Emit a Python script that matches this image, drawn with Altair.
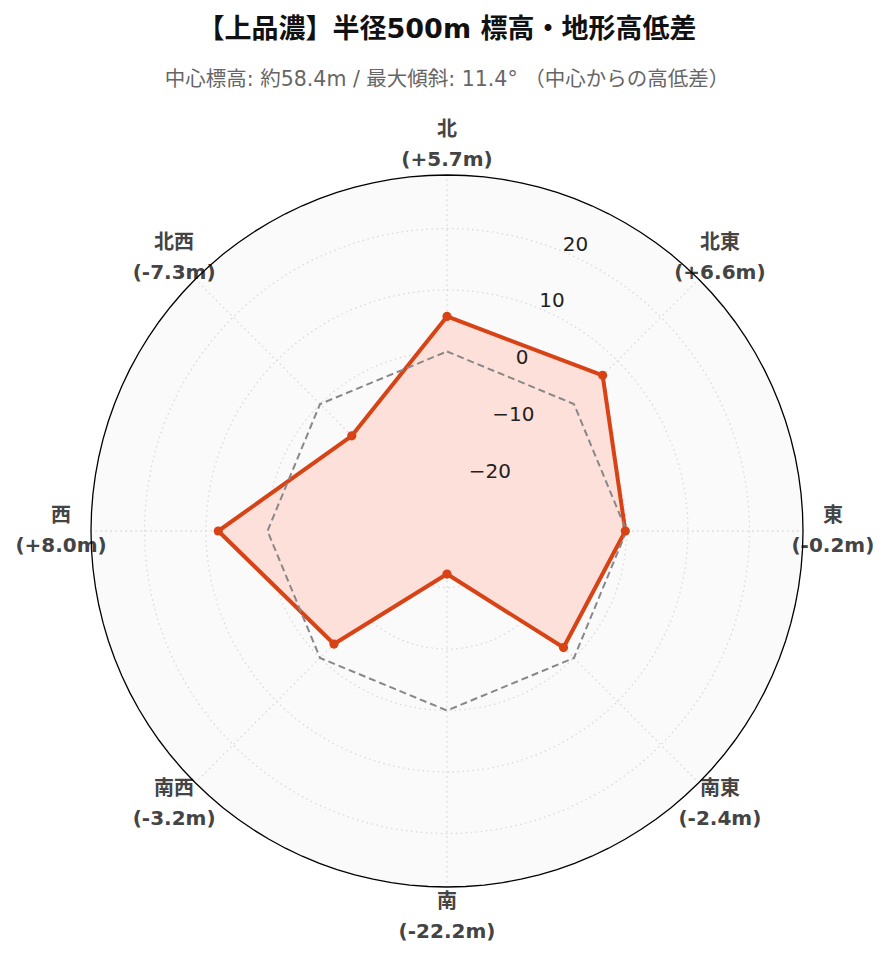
import altair as alt
import pandas as pd
import numpy as np

# ---- data ----
directions = ["北", "北東", "東", "南東", "南", "南西", "西", "北西"]
diffs = [5.7, 6.6, -0.2, -2.4, -22.2, -3.2, 8.0, -7.3]
reference_vals = [0, 0, 0, 0, 0, 0, 0, 0]
r_ticks = [-20, -10, 0, 10, 20]
R_MIN, R_MAX = -29.2, 28.7

title_text = "【上品濃】半径500m 標高・地形高低差"
subtitle_text = "中心標高: 約58.4m / 最大傾斜: 11.4° （中心からの高低差）"

LABEL_R = 1.084  # angular label radius (fraction of outer radius)
TICK_ANGLE = 22.5  # degrees, where radial tick labels sit

# ---- tables built from the arrays ----
n = len(directions)
poly = pd.DataFrame({
    "idx": list(range(n)) + [n],
    "dir": directions + [directions[0]],
    "diff": diffs + [diffs[0]],
    "ref": reference_vals + [reference_vals[0]],
})
pts = pd.DataFrame({"idx": list(range(n)), "dir": directions, "diff": diffs,
                    "label": [f"{d}\n({v:+.1f}m)" for d, v in zip(directions, diffs)]})

degs = list(range(0, 361, 3))
grid = pd.DataFrame([{"tick": t, "deg": d} for t in r_ticks for d in degs])
outer = pd.DataFrame({"deg": degs})
ticks = pd.DataFrame({"tick": r_ticks, "label": [str(t).replace("-", "\u2212") for t in r_ticks]})

span = R_MAX - R_MIN
X = alt.X("x:Q", scale=alt.Scale(domain=[-1, 1], nice=False, zero=False), axis=None)
Y = alt.Y("y:Q", scale=alt.Scale(domain=[-1, 1], nice=False, zero=False), axis=None)

def polar(chart, rexpr, aexpr):
    return chart.transform_calculate(
        r=rexpr, ang=aexpr
    ).transform_calculate(
        x="datum.r * sin(datum.ang)", y="datum.r * cos(datum.ang)"
    )

bg = polar(alt.Chart(outer), "1", "datum.deg * PI / 180").mark_line(
    fill="#fafafa", stroke="#fafafa", strokeWidth=0
).encode(x=X, y=Y, order="deg:Q")

grid_lines = polar(alt.Chart(grid), f"(datum.tick - ({R_MIN})) / {span}", "datum.deg * PI / 180").mark_line(
    stroke="#d9d9d9", strokeWidth=1.3, strokeDash=[1.5, 3.5]
).encode(x=X, y=Y, detail="tick:N", order="deg:Q")

spokes = alt.Chart(pts).transform_calculate(
    ang="datum.idx * PI / 4"
).transform_calculate(
    x="0", y="0", x2="sin(datum.ang)", y2="cos(datum.ang)"
).mark_rule(stroke="#d9d9d9", strokeWidth=1.3, strokeDash=[1.5, 3.5]).encode(
    x=X, y=Y, x2="x2:Q", y2="y2:Q"
)

ref_line = polar(alt.Chart(poly), f"(datum.ref - ({R_MIN})) / {span}", "datum.idx * PI / 4").mark_line(
    stroke="#888888", strokeWidth=2, strokeDash=[7, 4]
).encode(x=X, y=Y, order="idx:Q")

data_poly = polar(alt.Chart(poly), f"(datum.diff - ({R_MIN})) / {span}", "datum.idx * PI / 4").mark_line(
    fill="#fde0d9", stroke="#d84315", strokeWidth=4, strokeJoin="round"
).encode(x=X, y=Y, order="idx:Q")

data_pts = polar(alt.Chart(pts), f"(datum.diff - ({R_MIN})) / {span}", "datum.idx * PI / 4").mark_circle(
    color="#d84315", size=85, opacity=1
).encode(x=X, y=Y)

tick_labels = polar(alt.Chart(ticks), f"(datum.tick - ({R_MIN})) / {span}", f"{TICK_ANGLE} * PI / 180").mark_text(
    align="left", baseline="bottom", font="DejaVu Sans", fontSize=20, color="#222222", dx=0, dy=3
).encode(x=X, y=Y, text="label:N")

ang_labels = polar(alt.Chart(pts), f"{LABEL_R}", "datum.idx * PI / 4").mark_text(
    align="center", baseline="middle", font="DejaVu Sans, Noto Sans CJK JP", fontSize=20,
    fontWeight="bold", color="#444444", lineBreak="\n", lineHeight=30, dy=-15
).encode(x=X, y=Y, text="label:N")

outer_ring = polar(alt.Chart(outer), "1", "datum.deg * PI / 180").mark_line(
    stroke="#000000", strokeWidth=1.3
).encode(x=X, y=Y, order="deg:Q")

chart = alt.layer(
    bg, grid_lines, spokes, data_poly, ref_line, data_pts, tick_labels, ang_labels, outer_ring
).properties(
    width=712, height=712,
    autosize=alt.AutoSizeParams(type="none"),
    padding={"left": 83, "top": 167, "right": 78, "bottom": 62},
    title=alt.TitleParams(
        text=title_text, subtitle=subtitle_text,
        font="DejaVu Sans, Noto Sans CJK JP", fontSize=27, fontWeight="bold", color="#111111",
        subtitleFont="DejaVu Sans, Noto Sans CJK JP", subtitleFontSize=20.5, subtitleColor="#666666",
        subtitlePadding=26, anchor="middle", frame="group", offset=29,
    ),
).configure_view(stroke=None)

chart.save("out.html", embed_options={"renderer": "svg", "actions": False})
